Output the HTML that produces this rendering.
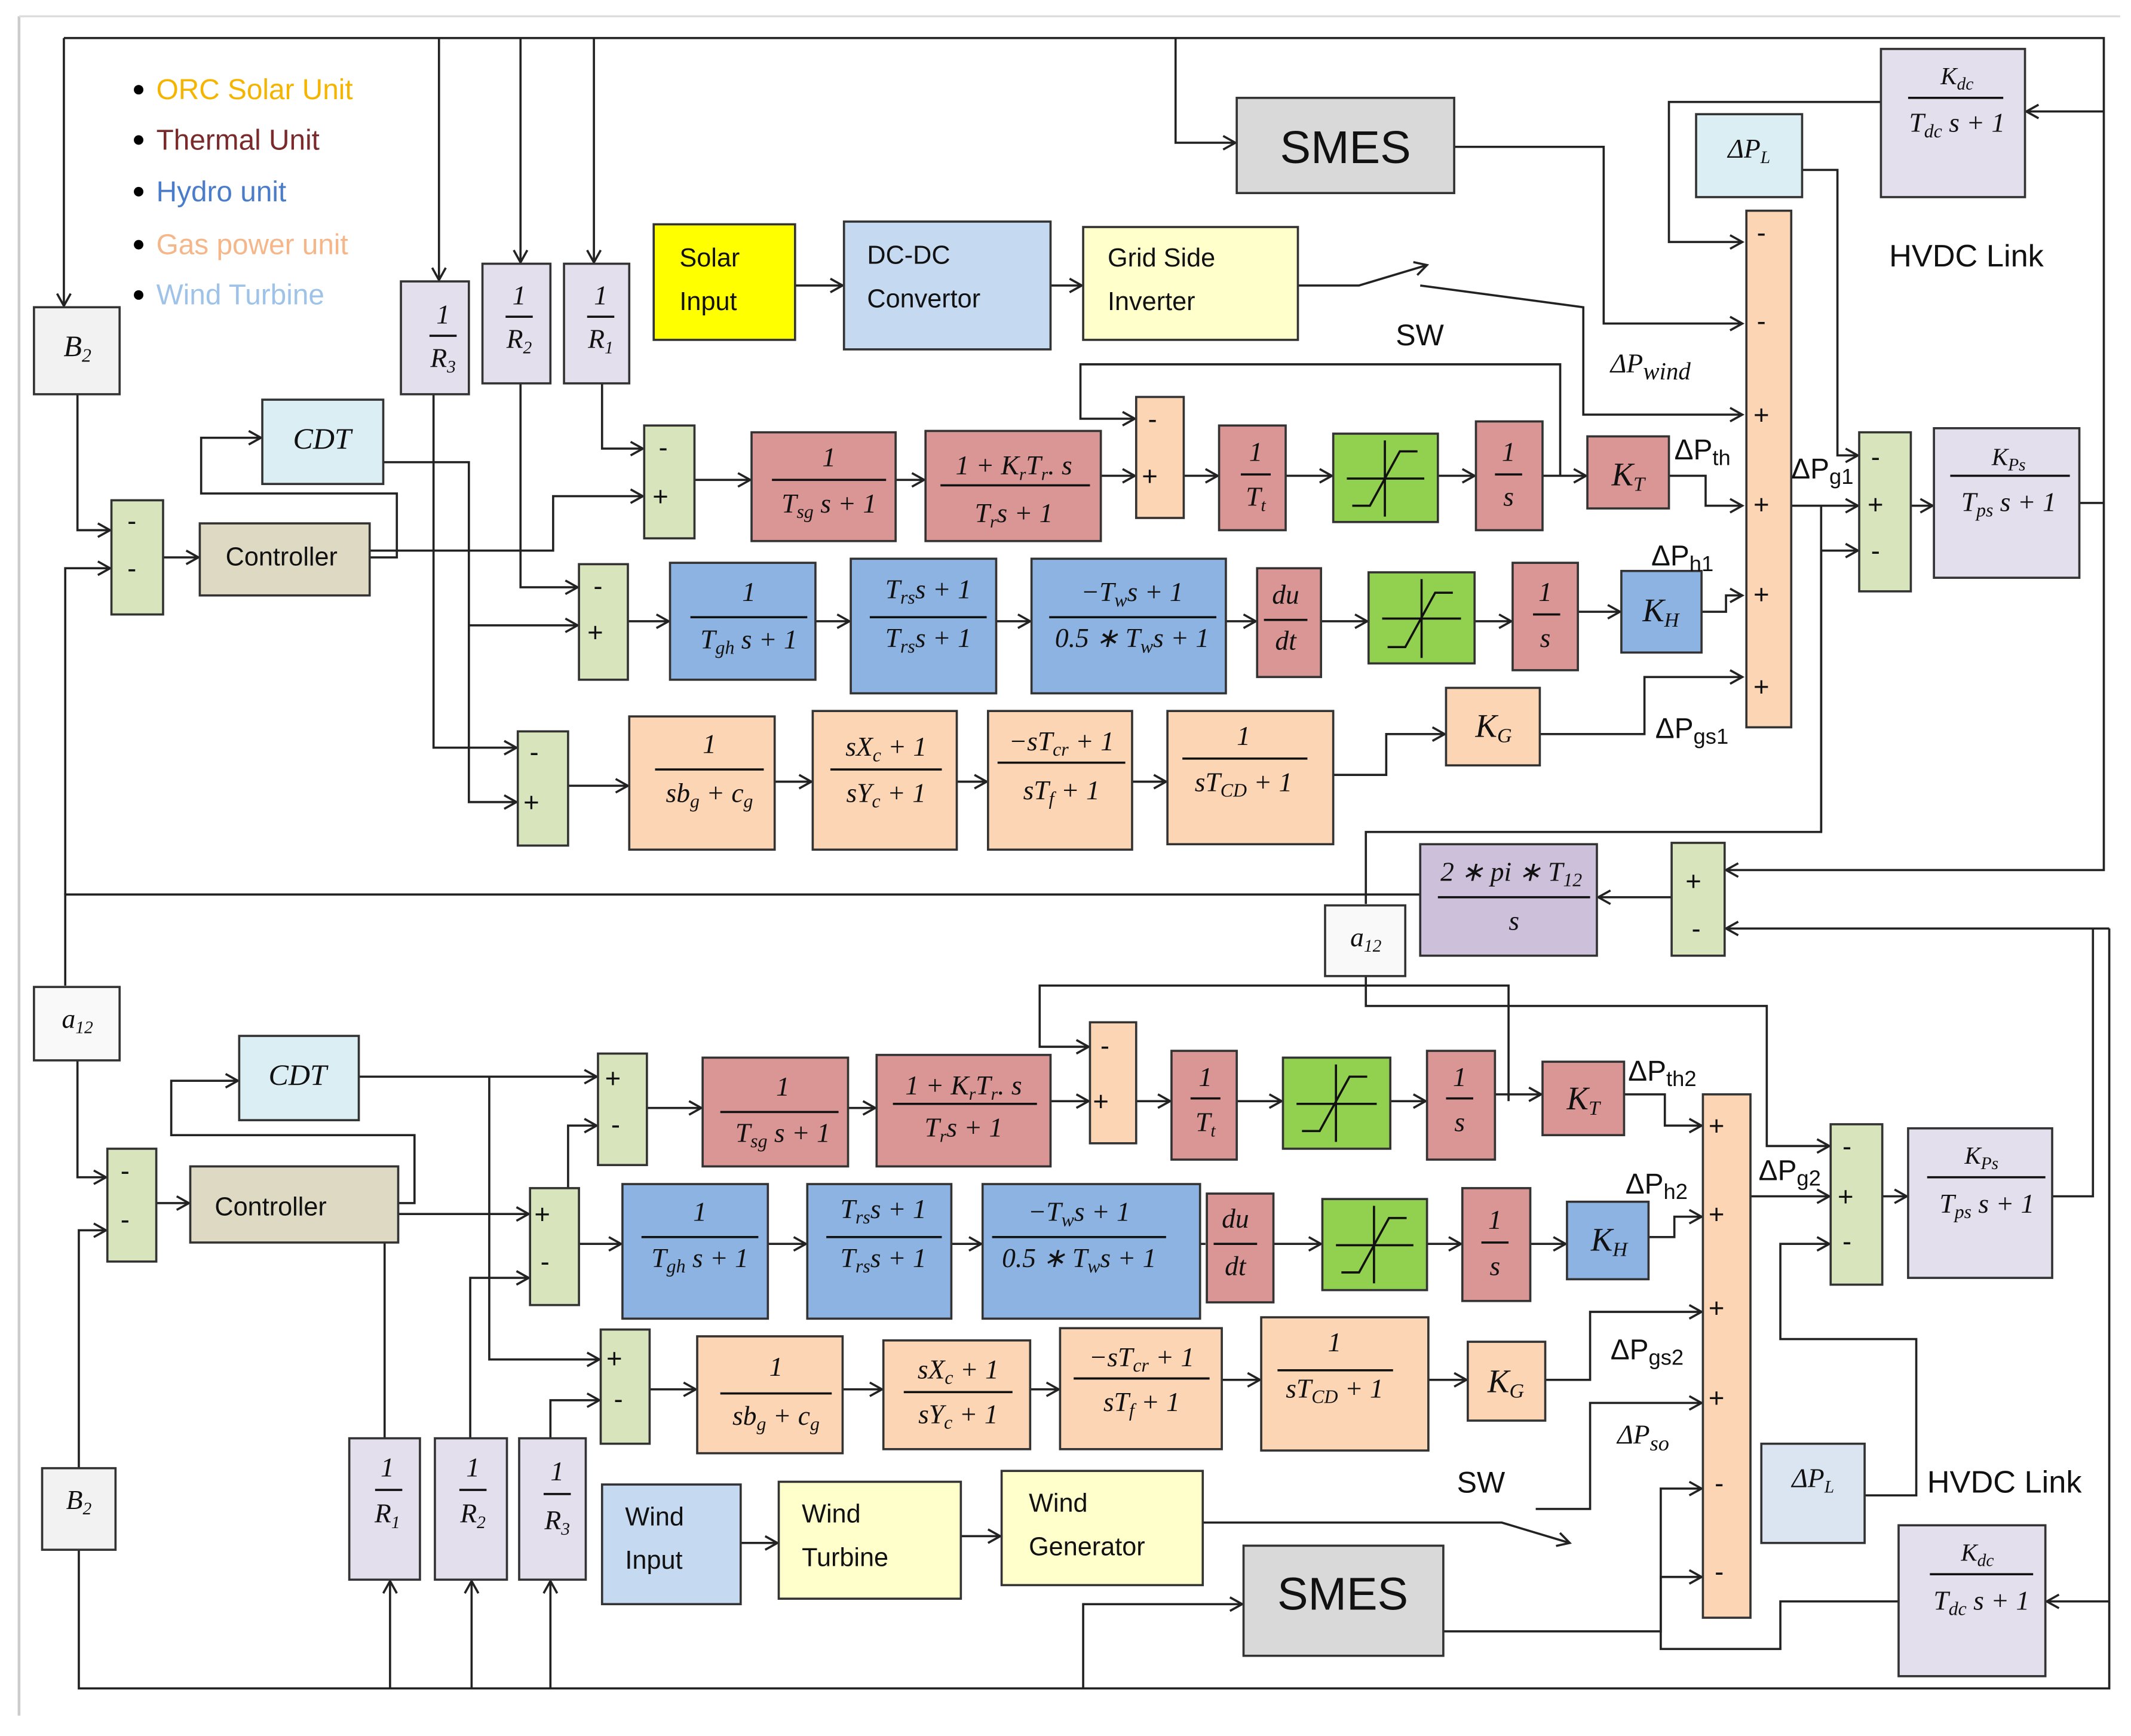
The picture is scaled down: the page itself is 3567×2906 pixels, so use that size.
<!DOCTYPE html>
<html><head><meta charset="utf-8"><style>
html,body{margin:0;padding:0;background:#fff;}
svg{display:block;}
text{font-family:"Liberation Serif",serif;fill:#111;}
.s{font-family:"Liberation Sans",sans-serif;}
.m{font-style:italic;font-size:20px;}
</style></head><body>
<svg width="3567" height="2906" viewBox="0 0 1568 1277" preserveAspectRatio="none" xmlns="http://www.w3.org/2000/svg">
<defs>
<marker id="a" markerWidth="12" markerHeight="12" refX="10" refY="6" orient="auto" markerUnits="userSpaceOnUse">
<path d="M1,1 L10,6 L1,11" fill="none" stroke="#222" stroke-width="1.6"/></marker>
</defs>
<rect x="0" y="0" width="1568" height="1277" fill="#fff"/>
<line x1="14" y1="12" x2="14" y2="1262" stroke="#ccc" stroke-width="2"/>
<line x1="14" y1="12" x2="1560" y2="12" stroke="#ddd" stroke-width="1.5"/>

<g fill="none" stroke="#222" stroke-width="1.6">
<!-- top frame lines -->
<polyline points="47,28 1548,28 1548,640 1270,640" marker-end="url(#a)"/>
<polyline points="47,28 47,225" marker-end="url(#a)"/>
<polyline points="323,28 323,206" marker-end="url(#a)"/>
<polyline points="383,28 383,193" marker-end="url(#a)"/>
<polyline points="437,28 437,193" marker-end="url(#a)"/>
<polyline points="865,28 865,105 909,105" marker-end="url(#a)"/>
<polyline points="1070,108 1180,108 1180,238 1282,238" marker-end="url(#a)"/>
<polyline points="1548,82 1491,82" marker-end="url(#a)"/>
<polyline points="1384,75 1228,75 1228,178 1282,178" marker-end="url(#a)"/>
<polyline points="1326,125 1352,125 1352,335 1367,335" marker-end="url(#a)"/>
<polyline points="1318,372 1367,372" marker-end="url(#a)"/>
<polyline points="1340,372 1340,612 1005,612 1005,665"/>
<polyline points="1340,612 1340,405 1367,405" marker-end="url(#a)"/>
<polyline points="1406,372 1422,372" marker-end="url(#a)"/>
<polyline points="1530,370 1548,370"/>
<polyline points="1552,683 1270,683" marker-end="url(#a)"/>
<polyline points="1552,683 1552,1242 58,1242 58,1140"/>
<polyline points="1230,660 1176,660" marker-end="url(#a)"/>
<polyline points="1045,658 48,658 48,725"/>
<polyline points="48,658 48,418 81,418" marker-end="url(#a)"/>
<polyline points="57,290 57,390 81,390" marker-end="url(#a)"/>
<polyline points="57,780 57,866 78,866" marker-end="url(#a)"/>
<polyline points="58,1080 58,905 78,905" marker-end="url(#a)"/>
<polyline points="120,410 146,410" marker-end="url(#a)"/>
<polyline points="272,410 292,410 292,363 148,363 148,322 192,322" marker-end="url(#a)"/>
<polyline points="272,405 407,405 407,365 473,365" marker-end="url(#a)"/>
<polyline points="282,340 345,340 345,590 380,590" marker-end="url(#a)"/>
<polyline points="345,460 425,460" marker-end="url(#a)"/>
<polyline points="443,282 443,330 473,330" marker-end="url(#a)"/>
<polyline points="383,282 383,432 425,432" marker-end="url(#a)"/>
<polyline points="319,290 319,550 380,550" marker-end="url(#a)"/>
<!-- solar -->
<polyline points="585,210 620,210" marker-end="url(#a)"/>
<polyline points="773,210 796,210" marker-end="url(#a)"/>
<polyline points="955,210 1000,210 1050,195" marker-end="url(#a)"/>
<polyline points="1045,210 1165,226 1165,305 1282,305" marker-end="url(#a)"/>
<!-- thermal row top -->
<polyline points="511,353 552,353" marker-end="url(#a)"/>
<polyline points="659,353 680,353" marker-end="url(#a)"/>
<polyline points="810,350 835,350" marker-end="url(#a)"/>
<polyline points="1148,350 1148,268 795,268 795,308 835,308" marker-end="url(#a)"/>
<polyline points="871,350 896,350" marker-end="url(#a)"/>
<polyline points="946,350 980,350" marker-end="url(#a)"/>
<polyline points="1058,350 1085,350" marker-end="url(#a)"/>
<polyline points="1135,350 1167,350" marker-end="url(#a)"/>
<polyline points="1228,350 1255,350 1255,372 1282,372" marker-end="url(#a)"/>
<!-- hydro top -->
<polyline points="462,457 492,457" marker-end="url(#a)"/>
<polyline points="600,457 625,457" marker-end="url(#a)"/>
<polyline points="733,457 758,457" marker-end="url(#a)"/>
<polyline points="902,457 924,457" marker-end="url(#a)"/>
<polyline points="972,457 1006,457" marker-end="url(#a)"/>
<polyline points="1085,457 1112,457" marker-end="url(#a)"/>
<polyline points="1161,450 1192,450" marker-end="url(#a)"/>
<polyline points="1252,450 1270,450 1270,438 1282,438" marker-end="url(#a)"/>
<!-- gas top -->
<polyline points="418,578 462,578" marker-end="url(#a)"/>
<polyline points="570,575 597,575" marker-end="url(#a)"/>
<polyline points="704,575 726,575" marker-end="url(#a)"/>
<polyline points="833,575 858,575" marker-end="url(#a)"/>
<polyline points="981,570 1020,570 1020,540 1063,540" marker-end="url(#a)"/>
<polyline points="1133,540 1210,540 1210,498 1282,498" marker-end="url(#a)"/>

<!-- bottom -->
<polyline points="115,885 139,885" marker-end="url(#a)"/>
<polyline points="293,885 305,885 305,835 126,835 126,795 175,795" marker-end="url(#a)"/>
<polyline points="264,792 439,792" marker-end="url(#a)"/>
<polyline points="360,792 360,1000 441,1000" marker-end="url(#a)"/>
<polyline points="283,1058 283,893 389,893" marker-end="url(#a)"/>
<polyline points="346,1058 346,940 389,940" marker-end="url(#a)"/>
<polyline points="405,1058 405,1030 441,1030" marker-end="url(#a)"/>
<polyline points="418,893 418,828 439,828" marker-end="url(#a)"/>
<polyline points="287,1242 287,1163" marker-end="url(#a)"/>
<polyline points="347,1242 347,1163" marker-end="url(#a)"/>
<polyline points="405,1242 405,1163" marker-end="url(#a)"/>
<polyline points="476,815 516,815" marker-end="url(#a)"/>
<polyline points="624,815 644,815" marker-end="url(#a)"/>
<polyline points="773,810 801,810" marker-end="url(#a)"/>
<polyline points="1110,810 1110,725 765,725 765,770 801,770" marker-end="url(#a)"/>
<polyline points="836,810 861,810" marker-end="url(#a)"/>
<polyline points="910,810 943,810" marker-end="url(#a)"/>
<polyline points="1023,810 1049,810" marker-end="url(#a)"/>
<polyline points="1100,805 1134,805" marker-end="url(#a)"/>
<polyline points="1195,805 1225,805 1225,828 1252,828" marker-end="url(#a)"/>
<polyline points="426,915 457,915" marker-end="url(#a)"/>
<polyline points="565,915 593,915" marker-end="url(#a)"/>
<polyline points="700,915 722,915" marker-end="url(#a)"/>
<polyline points="883,915 887,915"/>
<polyline points="937,915 972,915" marker-end="url(#a)"/>
<polyline points="1050,915 1075,915" marker-end="url(#a)"/>
<polyline points="1126,915 1152,915" marker-end="url(#a)"/>
<polyline points="1213,910 1232,910 1232,895 1252,895" marker-end="url(#a)"/>
<polyline points="478,1022 512,1022" marker-end="url(#a)"/>
<polyline points="620,1022 649,1022" marker-end="url(#a)"/>
<polyline points="758,1022 779,1022" marker-end="url(#a)"/>
<polyline points="899,1015 927,1015" marker-end="url(#a)"/>
<polyline points="1051,1015 1079,1015" marker-end="url(#a)"/>
<polyline points="1137,1015 1170,1015 1170,965 1252,965" marker-end="url(#a)"/>
<polyline points="1130,1110 1170,1110 1170,1032 1252,1032" marker-end="url(#a)"/>
<polyline points="545,1135 572,1135" marker-end="url(#a)"/>
<polyline points="707,1130 736,1130" marker-end="url(#a)"/>
<polyline points="885,1120 1105,1120 1155,1135" marker-end="url(#a)"/>
<polyline points="1062,1200 1222,1200 1222,1095 1252,1095" marker-end="url(#a)"/>
<polyline points="797,1242 797,1180 914,1180" marker-end="url(#a)"/>
<polyline points="1397,1178 1310,1178 1310,1213 1222,1213 1222,1160 1252,1160" marker-end="url(#a)"/>
<polyline points="1552,1178 1506,1178" marker-end="url(#a)"/>
<polyline points="1372,1100 1410,1100 1410,985 1310,985 1310,915 1346,915" marker-end="url(#a)"/>
<polyline points="1288,880 1346,880" marker-end="url(#a)"/>
<polyline points="1034,690 1005,690"/>
<polyline points="1005,718 1005,740 1300,740 1300,843 1346,843" marker-end="url(#a)"/>
<polyline points="1385,880 1403,880" marker-end="url(#a)"/>
<polyline points="1510,880 1540,880 1540,683"/>
</g>

<!-- legend -->
<g class="s" font-size="21">
<circle cx="102" cy="66" r="3.5" fill="#000"/><text x="115" y="73" class="s" style="fill:#f5b400">ORC Solar Unit</text>
<circle cx="102" cy="103" r="3.5" fill="#000"/><text x="115" y="110" class="s" style="fill:#7a2a2a">Thermal Unit</text>
<circle cx="102" cy="141" r="3.5" fill="#000"/><text x="115" y="148" class="s" style="fill:#4a7cc9">Hydro unit</text>
<circle cx="102" cy="180" r="3.5" fill="#000"/><text x="115" y="187" class="s" style="fill:#f5b78a">Gas power unit</text>
<circle cx="102" cy="217" r="3.5" fill="#000"/><text x="115" y="224" class="s" style="fill:#9fc3e8">Wind Turbine</text>
</g>

<g stroke="#333" stroke-width="1.6">
<!-- top boxes -->
<rect x="25" y="226" width="63" height="64" fill="#f2f2f2"/>
<rect x="295" y="207" width="50" height="83" fill="#e4dfec"/>
<rect x="355" y="194" width="50" height="88" fill="#e4dfec"/>
<rect x="415" y="194" width="48" height="88" fill="#e4dfec"/>
<rect x="481" y="165" width="104" height="85" fill="#ffff00"/>
<rect x="621" y="163" width="152" height="94" fill="#c5d9f1"/>
<rect x="797" y="167" width="158" height="83" fill="#ffffcc"/>
<rect x="910" y="72" width="160" height="70" fill="#d9d9d9"/>
<rect x="1248" y="84" width="78" height="61" fill="#dbeef3"/>
<rect x="1384" y="36" width="106" height="109" fill="#e4dfec"/>
<rect x="1285" y="155" width="33" height="380" fill="#fcd5b4"/>
<rect x="1368" y="318" width="38" height="117" fill="#d7e4bc"/>
<rect x="1423" y="315" width="107" height="110" fill="#e4dfec"/>
<rect x="193" y="294" width="89" height="62" fill="#dbeef3"/>
<rect x="147" y="385" width="125" height="53" fill="#ddd9c3"/>
<rect x="82" y="368" width="38" height="84" fill="#d7e4bc"/>
<rect x="474" y="313" width="37" height="83" fill="#d7e4bc"/>
<rect x="553" y="318" width="106" height="80" fill="#da9694"/>
<rect x="681" y="317" width="129" height="81" fill="#da9694"/>
<rect x="836" y="292" width="35" height="89" fill="#fcd5b4"/>
<rect x="897" y="313" width="49" height="77" fill="#da9694"/>
<rect x="981" y="319" width="77" height="65" fill="#92d050"/>
<rect x="1086" y="310" width="49" height="80" fill="#da9694"/>
<rect x="1168" y="321" width="60" height="53" fill="#da9694"/>
<rect x="426" y="415" width="36" height="85" fill="#d7e4bc"/>
<rect x="493" y="414" width="107" height="86" fill="#8db3e2"/>
<rect x="626" y="411" width="107" height="99" fill="#8db3e2"/>
<rect x="759" y="411" width="143" height="99" fill="#8db3e2"/>
<rect x="925" y="418" width="47" height="80" fill="#da9694"/>
<rect x="1007" y="421" width="78" height="67" fill="#92d050"/>
<rect x="1113" y="414" width="48" height="79" fill="#da9694"/>
<rect x="1193" y="420" width="59" height="60" fill="#8db3e2"/>
<rect x="381" y="538" width="37" height="84" fill="#d7e4bc"/>
<rect x="463" y="527" width="107" height="98" fill="#fcd5b4"/>
<rect x="598" y="523" width="106" height="102" fill="#fcd5b4"/>
<rect x="727" y="523" width="106" height="102" fill="#fcd5b4"/>
<rect x="859" y="523" width="122" height="98" fill="#fcd5b4"/>
<rect x="1064" y="506" width="69" height="57" fill="#fcd5b4"/>
<rect x="1045" y="621" width="130" height="82" fill="#ccc0da"/>
<rect x="1230" y="620" width="39" height="83" fill="#d7e4bc"/>
<rect x="975" y="666" width="59" height="52" fill="#f9f9f9"/>
<rect x="25" y="726" width="63" height="54" fill="#f9f9f9"/>
<!-- bottom -->
<rect x="176" y="762" width="88" height="62" fill="#dbeef3"/>
<rect x="140" y="858" width="153" height="56" fill="#ddd9c3"/>
<rect x="79" y="845" width="36" height="83" fill="#d7e4bc"/>
<rect x="440" y="775" width="36" height="82" fill="#d7e4bc"/>
<rect x="517" y="778" width="107" height="80" fill="#da9694"/>
<rect x="645" y="776" width="128" height="82" fill="#da9694"/>
<rect x="802" y="752" width="34" height="89" fill="#fcd5b4"/>
<rect x="862" y="773" width="48" height="80" fill="#da9694"/>
<rect x="944" y="778" width="79" height="67" fill="#92d050"/>
<rect x="1050" y="773" width="50" height="80" fill="#da9694"/>
<rect x="1135" y="781" width="60" height="54" fill="#da9694"/>
<rect x="390" y="874" width="36" height="86" fill="#d7e4bc"/>
<rect x="458" y="871" width="107" height="99" fill="#8db3e2"/>
<rect x="594" y="871" width="106" height="99" fill="#8db3e2"/>
<rect x="723" y="871" width="160" height="99" fill="#8db3e2"/>
<rect x="888" y="878" width="49" height="80" fill="#da9694"/>
<rect x="973" y="882" width="77" height="67" fill="#92d050"/>
<rect x="1076" y="874" width="50" height="83" fill="#da9694"/>
<rect x="1153" y="884" width="60" height="57" fill="#8db3e2"/>
<rect x="442" y="978" width="36" height="84" fill="#d7e4bc"/>
<rect x="513" y="983" width="107" height="86" fill="#fcd5b4"/>
<rect x="650" y="986" width="108" height="80" fill="#fcd5b4"/>
<rect x="780" y="977" width="119" height="89" fill="#fcd5b4"/>
<rect x="928" y="969" width="123" height="98" fill="#fcd5b4"/>
<rect x="1080" y="987" width="57" height="58" fill="#fcd5b4"/>
<rect x="1253" y="805" width="35" height="385" fill="#fcd5b4"/>
<rect x="1347" y="827" width="38" height="118" fill="#d7e4bc"/>
<rect x="1404" y="830" width="106" height="110" fill="#e4dfec"/>
<rect x="1296" y="1062" width="76" height="73" fill="#dbe5f1"/>
<rect x="1397" y="1122" width="108" height="111" fill="#e4dfec"/>
<rect x="257" y="1058" width="52" height="104" fill="#e4dfec"/>
<rect x="320" y="1058" width="53" height="104" fill="#e4dfec"/>
<rect x="382" y="1058" width="49" height="104" fill="#e4dfec"/>
<rect x="31" y="1080" width="54" height="60" fill="#f2f2f2"/>
<rect x="443" y="1092" width="102" height="88" fill="#c5d9f1"/>
<rect x="573" y="1090" width="134" height="86" fill="#ffffcc"/>
<rect x="737" y="1082" width="148" height="84" fill="#ffffcc"/>
<rect x="915" y="1137" width="147" height="81" fill="#d9d9d9"/>
</g>

<!-- saturation icons -->
<g stroke="#111" stroke-width="1.6" fill="none">
<path d="M991,352 H1048 M1019,324 V380 M995,372 H1008 L1030,332 H1043"/>
<path d="M1017,455 H1075 M1046,426 V484 M1021,476 H1034 L1056,436 H1069"/>
<path d="M954,812 H1013 M983,783 V840 M958,832 H971 L993,792 H1006"/>
<path d="M983,916 H1040 M1011,887 V944 M987,936 H1000 L1022,896 H1035"/>
</g>

<!-- fraction lines -->
<g stroke="#111" stroke-width="1.6">
<line x1="1404" y1="72" x2="1474" y2="72"/>
<line x1="1435" y1="350" x2="1523" y2="350"/>
<line x1="316" y1="247" x2="336" y2="247"/>
<line x1="372" y1="233" x2="392" y2="233"/>
<line x1="432" y1="233" x2="452" y2="233"/>
<line x1="568" y1="353" x2="652" y2="353"/>
<line x1="692" y1="357" x2="802" y2="357"/>
<line x1="913" y1="349" x2="935" y2="349"/>
<line x1="1100" y1="349" x2="1120" y2="349"/>
<line x1="508" y1="454" x2="594" y2="454"/>
<line x1="640" y1="454" x2="726" y2="454"/>
<line x1="772" y1="454" x2="895" y2="454"/>
<line x1="930" y1="456" x2="962" y2="456"/>
<line x1="1128" y1="452" x2="1148" y2="452"/>
<line x1="482" y1="566" x2="562" y2="566"/>
<line x1="611" y1="566" x2="693" y2="566"/>
<line x1="734" y1="561" x2="828" y2="561"/>
<line x1="870" y1="558" x2="962" y2="558"/>
<line x1="1058" y1="660" x2="1170" y2="660"/>
<line x1="1420" y1="1158" x2="1496" y2="1158"/>
<line x1="1418" y1="866" x2="1505" y2="866"/>
<line x1="276" y1="1096" x2="296" y2="1096"/>
<line x1="338" y1="1096" x2="358" y2="1096"/>
<line x1="400" y1="1099" x2="420" y2="1099"/>
<line x1="530" y1="818" x2="617" y2="818"/>
<line x1="657" y1="812" x2="763" y2="812"/>
<line x1="876" y1="808" x2="898" y2="808"/>
<line x1="1064" y1="808" x2="1084" y2="808"/>
<line x1="472" y1="910" x2="558" y2="910"/>
<line x1="608" y1="910" x2="693" y2="910"/>
<line x1="730" y1="910" x2="858" y2="910"/>
<line x1="893" y1="915" x2="925" y2="915"/>
<line x1="1090" y1="914" x2="1110" y2="914"/>
<line x1="530" y1="1025" x2="612" y2="1025"/>
<line x1="665" y1="1024" x2="745" y2="1024"/>
<line x1="790" y1="1014" x2="890" y2="1014"/>
<line x1="940" y1="1008" x2="1025" y2="1008"/>
</g>

<!-- math labels -->
<g class="m" text-anchor="middle">
<text x="1440" y="62" font-size="18">K<tspan font-size="13" dy="4">dc</tspan></text>
<text x="1440" y="97">T<tspan font-size="14" dy="4">dc</tspan><tspan dy="-4"> s + 1</tspan></text>
<text x="1478" y="342" font-size="18">K<tspan font-size="13" dy="4">Ps</tspan></text>
<text x="1478" y="376">T<tspan font-size="14" dy="4">ps</tspan><tspan dy="-4"> s + 1</tspan></text>
<text x="1287" y="116">ΔP<tspan font-size="13" dy="4">L</tspan></text>
<text x="57" y="262" font-size="22">B<tspan font-size="14" dy="4">2</tspan></text>
<text x="326" y="238">1</text><text x="326" y="270">R<tspan font-size="13" dy="4">3</tspan></text>
<text x="382" y="224">1</text><text x="382" y="256">R<tspan font-size="13" dy="4">2</tspan></text>
<text x="442" y="224">1</text><text x="442" y="256">R<tspan font-size="13" dy="4">1</tspan></text>
<text x="237" y="330" font-size="22">CDT</text>
<text x="610" y="343">1</text><text x="610" y="377">T<tspan font-size="14" dy="4">sg</tspan><tspan dy="-4"> s + 1</tspan></text>
<text x="746" y="349">1 + K<tspan font-size="13" dy="4">r</tspan><tspan dy="-4">T</tspan><tspan font-size="13" dy="4">r</tspan><tspan dy="-4">. s</tspan></text>
<text x="746" y="384">T<tspan font-size="13" dy="4">r</tspan><tspan dy="-4">s + 1</tspan></text>
<text x="924" y="339">1</text><text x="924" y="372">T<tspan font-size="13" dy="4">t</tspan></text>
<text x="1110" y="339">1</text><text x="1110" y="372">s</text>
<text x="1198" y="357" font-size="24">K<tspan font-size="15" dy="4">T</tspan></text>
<text x="551" y="442">1</text><text x="551" y="477">T<tspan font-size="14" dy="4">gh</tspan><tspan dy="-4"> s + 1</tspan></text>
<text x="683" y="440">T<tspan font-size="14" dy="4">rs</tspan><tspan dy="-4">s + 1</tspan></text>
<text x="683" y="476">T<tspan font-size="14" dy="4">rs</tspan><tspan dy="-4">s + 1</tspan></text>
<text x="833" y="442">−T<tspan font-size="14" dy="4">w</tspan><tspan dy="-4">s + 1</tspan></text>
<text x="833" y="476">0.5 ∗ T<tspan font-size="14" dy="4">w</tspan><tspan dy="-4">s + 1</tspan></text>
<text x="946" y="444">du</text><text x="946" y="478">dt</text>
<text x="1137" y="442">1</text><text x="1137" y="476">s</text>
<text x="1222" y="457" font-size="24">K<tspan font-size="15" dy="4">H</tspan></text>
<text x="522" y="554">1</text><text x="522" y="590">sb<tspan font-size="14" dy="4">g</tspan><tspan dy="-4"> + c</tspan><tspan font-size="14" dy="4">g</tspan></text>
<text x="652" y="556">sX<tspan font-size="14" dy="4">c</tspan><tspan dy="-4"> + 1</tspan></text>
<text x="652" y="590">sY<tspan font-size="14" dy="4">c</tspan><tspan dy="-4"> + 1</tspan></text>
<text x="781" y="552">−sT<tspan font-size="14" dy="4">cr</tspan><tspan dy="-4"> + 1</tspan></text>
<text x="781" y="588">sT<tspan font-size="14" dy="4">f</tspan><tspan dy="-4"> + 1</tspan></text>
<text x="915" y="548">1</text><text x="915" y="582">sT<tspan font-size="14" dy="4">CD</tspan><tspan dy="-4"> + 1</tspan></text>
<text x="1099" y="542" font-size="24">K<tspan font-size="15" dy="4">G</tspan></text>
<text x="1112" y="648">2 ∗ pi ∗ T<tspan font-size="14" dy="4">12</tspan></text>
<text x="1114" y="684">s</text>
<text x="1005" y="696">a<tspan font-size="13" dy="4">12</tspan></text>
<text x="57" y="756">a<tspan font-size="13" dy="4">12</tspan></text>
<!-- bottom -->
<text x="219" y="798" font-size="22">CDT</text>
<text x="576" y="806">1</text><text x="576" y="840">T<tspan font-size="14" dy="4">sg</tspan><tspan dy="-4"> s + 1</tspan></text>
<text x="709" y="805">1 + K<tspan font-size="13" dy="4">r</tspan><tspan dy="-4">T</tspan><tspan font-size="13" dy="4">r</tspan><tspan dy="-4">. s</tspan></text>
<text x="709" y="836">T<tspan font-size="13" dy="4">r</tspan><tspan dy="-4">s + 1</tspan></text>
<text x="887" y="799">1</text><text x="887" y="832">T<tspan font-size="13" dy="4">t</tspan></text>
<text x="1074" y="799">1</text><text x="1074" y="832">s</text>
<text x="1165" y="816" font-size="24">K<tspan font-size="15" dy="4">T</tspan></text>
<text x="515" y="898">1</text><text x="515" y="932">T<tspan font-size="14" dy="4">gh</tspan><tspan dy="-4"> s + 1</tspan></text>
<text x="650" y="896">T<tspan font-size="14" dy="4">rs</tspan><tspan dy="-4">s + 1</tspan></text>
<text x="650" y="932">T<tspan font-size="14" dy="4">rs</tspan><tspan dy="-4">s + 1</tspan></text>
<text x="794" y="898">−T<tspan font-size="14" dy="4">w</tspan><tspan dy="-4">s + 1</tspan></text>
<text x="794" y="932">0.5 ∗ T<tspan font-size="14" dy="4">w</tspan><tspan dy="-4">s + 1</tspan></text>
<text x="909" y="903">du</text><text x="909" y="938">dt</text>
<text x="1100" y="904">1</text><text x="1100" y="938">s</text>
<text x="1184" y="920" font-size="24">K<tspan font-size="15" dy="4">H</tspan></text>
<text x="571" y="1012">1</text><text x="571" y="1048">sb<tspan font-size="14" dy="4">g</tspan><tspan dy="-4"> + c</tspan><tspan font-size="14" dy="4">g</tspan></text>
<text x="705" y="1014">sX<tspan font-size="14" dy="4">c</tspan><tspan dy="-4"> + 1</tspan></text>
<text x="705" y="1047">sY<tspan font-size="14" dy="4">c</tspan><tspan dy="-4"> + 1</tspan></text>
<text x="840" y="1005">−sT<tspan font-size="14" dy="4">cr</tspan><tspan dy="-4"> + 1</tspan></text>
<text x="840" y="1038">sT<tspan font-size="14" dy="4">f</tspan><tspan dy="-4"> + 1</tspan></text>
<text x="982" y="994">1</text><text x="982" y="1028">sT<tspan font-size="14" dy="4">CD</tspan><tspan dy="-4"> + 1</tspan></text>
<text x="1108" y="1024" font-size="24">K<tspan font-size="15" dy="4">G</tspan></text>
<text x="1458" y="856" font-size="18">K<tspan font-size="13" dy="4">Ps</tspan></text>
<text x="1462" y="892">T<tspan font-size="14" dy="4">ps</tspan><tspan dy="-4"> s + 1</tspan></text>
<text x="1455" y="1148" font-size="18">K<tspan font-size="13" dy="4">dc</tspan></text>
<text x="1458" y="1184">T<tspan font-size="14" dy="4">dc</tspan><tspan dy="-4"> s + 1</tspan></text>
<text x="1334" y="1094">ΔP<tspan font-size="13" dy="4">L</tspan></text>
<text x="285" y="1086">1</text><text x="285" y="1120">R<tspan font-size="13" dy="4">1</tspan></text>
<text x="348" y="1086">1</text><text x="348" y="1120">R<tspan font-size="13" dy="4">2</tspan></text>
<text x="410" y="1089">1</text><text x="410" y="1125">R<tspan font-size="13" dy="4">3</tspan></text>
<text x="58" y="1110" font-size="20">B<tspan font-size="13" dy="4">2</tspan></text>
</g>

<!-- sans labels -->
<g class="s" font-size="19">
<text x="500" y="196" class="s">Solar</text><text x="500" y="228" class="s">Input</text>
<text x="638" y="194" class="s">DC-DC</text><text x="638" y="226" class="s">Convertor</text>
<text x="815" y="196" class="s">Grid Side</text><text x="815" y="228" class="s">Inverter</text>
<text x="166" y="416" class="s">Controller</text>
<text x="158" y="894" class="s">Controller</text>
<text x="460" y="1122" class="s">Wind</text><text x="460" y="1154" class="s">Input</text>
<text x="590" y="1120" class="s">Wind</text><text x="590" y="1152" class="s">Turbine</text>
<text x="757" y="1112" class="s">Wind</text><text x="757" y="1144" class="s">Generator</text>
</g>
<text x="990" y="120" text-anchor="middle" class="s" font-size="34">SMES</text>
<text x="988" y="1184" text-anchor="middle" class="s" font-size="34">SMES</text>
<text x="1390" y="196" class="s" font-size="23">HVDC Link</text>
<text x="1418" y="1098" class="s" font-size="23">HVDC Link</text>
<text x="1027" y="254" class="s" font-size="22">SW</text>
<text x="1072" y="1098" class="s" font-size="22">SW</text>

<g class="s" font-size="21">
<text x="1232" y="338" class="s">ΔP<tspan font-size="16" dy="4">th</tspan></text>
<text x="1318" y="352" class="s">ΔP<tspan font-size="16" dy="4">g1</tspan></text>
<text x="1215" y="416" class="s">ΔP<tspan font-size="16" dy="4">h1</tspan></text>
<text x="1218" y="543" class="s">ΔP<tspan font-size="16" dy="4">gs1</tspan></text>
<text x="1198" y="795" class="s">ΔP<tspan font-size="16" dy="4">th2</tspan></text>
<text x="1294" y="868" class="s">ΔP<tspan font-size="16" dy="4">g2</tspan></text>
<text x="1196" y="878" class="s">ΔP<tspan font-size="16" dy="4">h2</tspan></text>
<text x="1185" y="1000" class="s">ΔP<tspan font-size="16" dy="4">gs2</tspan></text>
</g>
<text x="1185" y="274" class="m" font-size="24">ΔP<tspan font-size="18" dy="5">wind</tspan></text>
<text x="1190" y="1062" class="m" font-size="22">ΔP<tspan font-size="16" dy="5">so</tspan></text>

<!-- signs -->
<g class="s" font-size="20" text-anchor="middle">
<text x="1296" y="178" class="s">-</text><text x="1296" y="243" class="s">-</text>
<text x="1296" y="312" class="s">+</text><text x="1296" y="378" class="s">+</text>
<text x="1296" y="444" class="s">+</text><text x="1296" y="512" class="s">+</text>
<text x="1380" y="343" class="s">-</text><text x="1380" y="378" class="s">+</text><text x="1380" y="412" class="s">-</text>
<text x="97" y="390" class="s">-</text><text x="97" y="425" class="s">-</text>
<text x="488" y="336" class="s">-</text><text x="486" y="372" class="s">+</text>
<text x="848" y="315" class="s">-</text><text x="846" y="357" class="s">+</text>
<text x="440" y="438" class="s">-</text><text x="438" y="472" class="s">+</text>
<text x="393" y="560" class="s">-</text><text x="391" y="597" class="s">+</text>
<text x="1246" y="655" class="s">+</text><text x="1248" y="690" class="s">-</text>
<text x="92" y="868" class="s">-</text><text x="92" y="904" class="s">-</text>
<text x="451" y="800" class="s">+</text><text x="453" y="834" class="s">-</text>
<text x="813" y="776" class="s">-</text><text x="810" y="817" class="s">+</text>
<text x="399" y="900" class="s">+</text><text x="401" y="935" class="s">-</text>
<text x="452" y="1006" class="s">+</text><text x="455" y="1036" class="s">-</text>
<text x="1263" y="835" class="s">+</text><text x="1263" y="900" class="s">+</text>
<text x="1263" y="969" class="s">+</text><text x="1263" y="1035" class="s">+</text>
<text x="1265" y="1098" class="s">-</text><text x="1265" y="1163" class="s">-</text>
<text x="1359" y="850" class="s">-</text><text x="1358" y="887" class="s">+</text><text x="1359" y="920" class="s">-</text>
</g>
</svg>
</body></html>
